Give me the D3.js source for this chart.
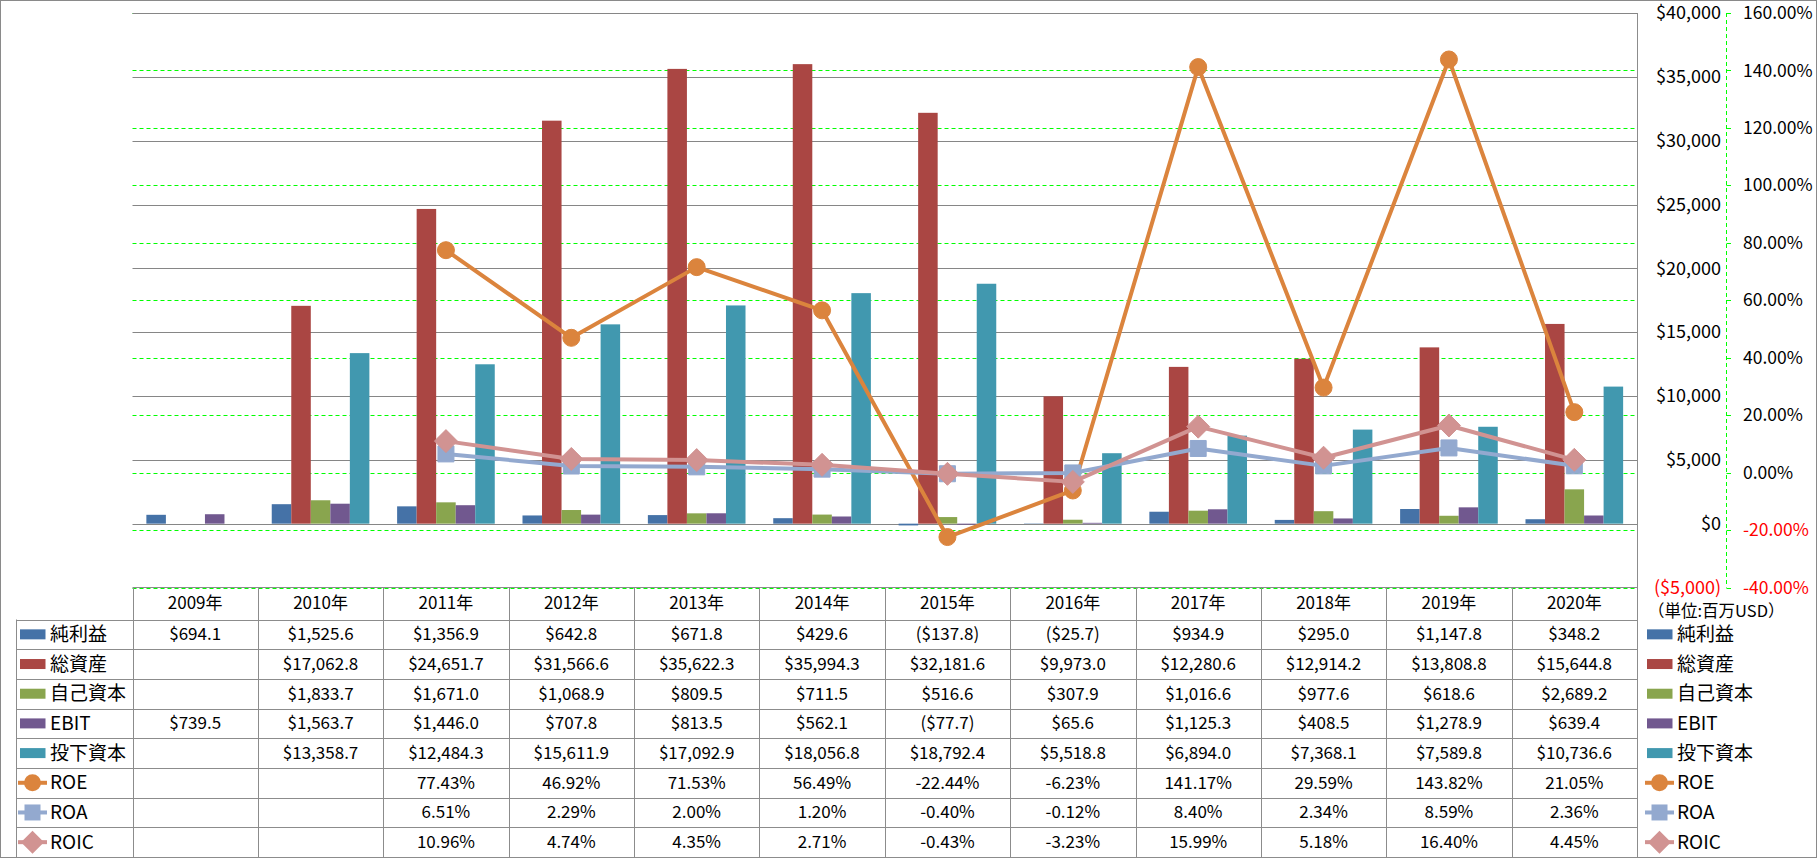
<!DOCTYPE html>
<html>
<head>
<meta charset="utf-8">
<script src="https://cdn.jsdelivr.net/npm/d3@7"></script>
<style>
  body { margin: 0; background: #fff; }
  svg { display: block; font-family: "Noto Sans CJK JP", "Noto Sans", sans-serif; }
</style>
</head>
<body>
<svg width="1817" height="858"></svg>
<script>
// data (単位: 百万USD / %)
const years = ['2009年', '2010年', '2011年', '2012年', '2013年', '2014年', '2015年', '2016年', '2017年', '2018年', '2019年', '2020年'];
const netIncome = [694.1, 1525.6, 1356.9, 642.8, 671.8, 429.6, -137.8, -25.7, 934.9, 295.0, 1147.8, 348.2];
const totalAssets = [null, 17062.8, 24651.7, 31566.6, 35622.3, 35994.3, 32181.6, 9973.0, 12280.6, 12914.2, 13808.8, 15644.8];
const equity = [null, 1833.7, 1671.0, 1068.9, 809.5, 711.5, 516.6, 307.9, 1016.6, 977.6, 618.6, 2689.2];
const ebit = [739.5, 1563.7, 1446.0, 707.8, 813.5, 562.1, -77.7, 65.6, 1125.3, 408.5, 1278.9, 639.4];
const investedCapital = [null, 13358.7, 12484.3, 15611.9, 17092.9, 18056.8, 18792.4, 5518.8, 6894.0, 7368.1, 7589.8, 10736.6];
const roe = [null, null, 77.43, 46.92, 71.53, 56.49, -22.44, -6.23, 141.17, 29.59, 143.82, 21.05];
const roa = [null, null, 6.51, 2.29, 2.00, 1.20, -0.40, -0.12, 8.40, 2.34, 8.59, 2.36];
const roic = [null, null, 10.96, 4.74, 4.35, 2.71, -0.43, -3.23, 15.99, 5.18, 16.40, 4.45];
const usdTicks = [-5000, 0, 5000, 10000, 15000, 20000, 25000, 30000, 35000, 40000];
const pctTicks = [-40, -20, 0, 20, 40, 60, 80, 100, 120, 140, 160];

const barSeries = [
  { name: '純利益', values: netIncome, color: '#4572A7' },
  { name: '総資産', values: totalAssets, color: '#AA4643' },
  { name: '自己資本', values: equity, color: '#89A54E' },
  { name: 'EBIT', values: ebit, color: '#71588F' },
  { name: '投下資本', values: investedCapital, color: '#4198AF' }
];
const lineSeries = [
  { name: 'ROE', values: roe, color: '#DB843D', marker: 'circle' },
  { name: 'ROA', values: roa, color: '#93A9CF', marker: 'square' },
  { name: 'ROIC', values: roic, color: '#D19392', marker: 'diamond' }
];

const svg = d3.select('svg');
const width = +svg.attr('width');
const height = +svg.attr('height');

const plotLeft = 132.5, plotRight = 1637, plotTop = 13, plotBottom = 587.5;

const x = d3.scaleBand().domain(years).range([plotLeft, plotRight]);
const xInner = d3.scaleBand().domain(barSeries.map(d => d.name))
  .range([0, x.bandwidth()]).paddingInner(0).paddingOuter(0.71);
const y = d3.scaleLinear().domain([-5000, 40000]).range([plotBottom, plotTop]);
const y2 = d3.scaleLinear().domain([-40, 160]).range([plotBottom, plotTop]);

const fmtNum = d3.format(',.1f');
const fmtUsd = v => v < 0 ? '($' + fmtNum(-v) + ')' : '$' + fmtNum(v);
const fmtTick = v => v < 0 ? '($' + d3.format(',')(-v) + ')' : '$' + d3.format(',')(v);
const fmtPct = v => v.toFixed(2) + '%';

// outer border
svg.append('rect')
  .attr('x', 0.5).attr('y', 0.5)
  .attr('width', width - 1).attr('height', height - 1)
  .attr('fill', 'none').attr('stroke', '#8a8a8a');

// green dashed gridlines (secondary axis)
svg.append('g').selectAll('line').data(pctTicks)
  .enter().append('line')
  .attr('x1', plotLeft).attr('x2', plotRight)
  .attr('y1', d => Math.round(y2(d)) + 0.5).attr('y2', d => Math.round(y2(d)) + 0.5)
  .attr('stroke', '#00FF00').attr('stroke-dasharray', '4,3');

// gray gridlines (primary axis)
svg.append('g').selectAll('line').data(usdTicks.filter(d => d >= 0))
  .enter().append('line')
  .attr('x1', plotLeft).attr('x2', plotRight)
  .attr('y1', d => Math.round(y(d)) + 0.5).attr('y2', d => Math.round(y(d)) + 0.5)
  .attr('stroke', '#868686');

// bars
barSeries.forEach(s => {
  svg.append('g').selectAll('rect')
    .data(years.map((yr, i) => ({ yr, v: s.values[i] })).filter(d => d.v != null))
    .enter().append('rect')
    .attr('x', d => x(d.yr) + xInner(s.name))
    .attr('width', xInner.bandwidth())
    .attr('y', d => y(Math.max(0, d.v)))
    .attr('height', d => Math.abs(y(d.v) - y(0)))
    .attr('fill', s.color);
});

// lines + markers
const markerPath = type => {
  if (type === 'circle') return d3.symbol(d3.symbolCircle, Math.PI * 8.5 * 8.5)();
  if (type === 'square') return 'M-8,-8H8V8H-8Z';
  return 'M0,-11.5L11.5,0L0,11.5L-11.5,0Z';
};
lineSeries.forEach(s => {
  const pts = years.map((yr, i) => ({ yr, v: s.values[i] })).filter(d => d.v != null);
  const line = d3.line()
    .x(d => x(d.yr) + x.bandwidth() / 2)
    .y(d => y2(d.v));
  svg.append('path')
    .attr('d', line(pts))
    .attr('fill', 'none')
    .attr('stroke', s.color)
    .attr('stroke-width', 4)
    .attr('stroke-linejoin', 'round');
  svg.append('g').selectAll('path')
    .data(pts)
    .enter().append('path')
    .attr('transform', d => `translate(${x(d.yr) + x.bandwidth() / 2},${y2(d.v)})`)
    .attr('d', markerPath(s.marker))
    .attr('fill', s.color)
    .attr('stroke', s.color)
    .attr('stroke-width', 1)
    .attr('stroke-linejoin', 'round');
});

// primary axis labels (right side)
svg.append('g').selectAll('text').data(usdTicks)
  .enter().append('text')
  .attr('x', 1721)
  .attr('y', d => y(d))
  .attr('dy', '0.35em')
  .attr('text-anchor', 'end')
  .style('font-size', '18px')
  .attr('fill', d => d < 0 ? '#FF0000' : '#000')
  .text(fmtTick);

// secondary axis line + ticks
svg.append('line')
  .attr('x1', 1726.5).attr('x2', 1726.5)
  .attr('y1', plotTop).attr('y2', plotBottom)
  .attr('stroke', '#00FF00').attr('stroke-dasharray', '4,3');
svg.append('g').selectAll('line').data(pctTicks)
  .enter().append('line')
  .attr('x1', 1726.5).attr('x2', 1731)
  .attr('y1', d => Math.round(y2(d)) + 0.5).attr('y2', d => Math.round(y2(d)) + 0.5)
  .attr('stroke', '#00FF00');
svg.append('g').selectAll('text').data(pctTicks)
  .enter().append('text')
  .attr('x', 1743)
  .attr('y', d => y2(d))
  .attr('dy', '0.35em')
  .style('font-size', '17.5px')
  .attr('fill', d => d < 0 ? '#FF0000' : '#000')
  .text(fmtPct);

svg.append('text')
  .attr('x', 1648).attr('y', 611)
  .attr('dy', '0.35em')
  .style('font-size', '16.5px')
  .text('（単位:百万USD）');

// data table
const headTop = plotBottom, headBottom = 619.5, rowH = (857 - headBottom) / 8;
const tableLeft = 16.5;
const rows = barSeries.map(s => ({ ...s, kind: 'bar', fmt: fmtUsd }))
  .concat(lineSeries.map(s => ({ ...s, kind: 'line', fmt: fmtPct })));

const grid = svg.append('g').attr('stroke', '#8c8c8c').attr('fill', 'none');
grid.append('line').attr('x1', plotLeft).attr('x2', plotRight).attr('y1', headTop).attr('y2', headTop);
d3.range(9).forEach(i => {
  const yy = Math.round(headBottom + i * rowH) + 0.5;
  grid.append('line').attr('x1', tableLeft).attr('x2', plotRight).attr('y1', yy).attr('y2', yy);
});
grid.append('line').attr('x1', tableLeft).attr('x2', tableLeft).attr('y1', headBottom).attr('y2', 857);
years.forEach(yr => {
  const xx = Math.round(x(yr)) + 0.5;
  grid.append('line').attr('x1', xx).attr('x2', xx).attr('y1', headTop).attr('y2', 857);
});
grid.append('line').attr('x1', plotRight + 0.5).attr('x2', plotRight + 0.5).attr('y1', plotTop).attr('y2', 857);

// header years
svg.append('g').selectAll('text').data(years)
  .enter().append('text')
  .attr('x', d => x(d) + x.bandwidth() / 2)
  .attr('y', (headTop + headBottom) / 2)
  .attr('dy', '0.35em')
  .attr('text-anchor', 'middle')
  .style('font-size', '17px')
  .text(d => d);

const drawKey = (g, r, kx) => {
  if (r.kind === 'bar') {
    g.append('rect').attr('x', kx).attr('y', -5).attr('width', 25.5).attr('height', 10).attr('fill', r.color);
  } else {
    g.append('line').attr('x1', kx - 2).attr('x2', kx + 27).attr('y1', 0).attr('y2', 0)
      .attr('stroke', r.color).attr('stroke-width', 4);
    g.append('path').attr('transform', `translate(${kx + 12.5},0)`)
      .attr('d', markerPath(r.marker)).attr('fill', r.color);
  }
};

rows.forEach((r, ri) => {
  const cy = headBottom + (ri + 0.5) * rowH;
  const left = svg.append('g').attr('transform', `translate(0,${cy})`);
  drawKey(left, r, 20);
  left.append('text').attr('x', 50).attr('dy', '0.35em').style('font-size', '19px').text(r.name);

  const right = svg.append('g').attr('transform', `translate(0,${cy})`);
  drawKey(right, r, 1647);
  right.append('text').attr('x', 1677).attr('dy', '0.35em').style('font-size', '19px').text(r.name);

  svg.append('g').selectAll('text')
    .data(years.map((yr, i) => ({ yr, v: r.values[i] })).filter(d => d.v != null))
    .enter().append('text')
    .attr('x', d => x(d.yr) + x.bandwidth() / 2)
    .attr('y', cy)
    .attr('dy', '0.35em')
    .attr('text-anchor', 'middle')
    .style('font-size', '17px')
    .text(d => r.fmt(d.v));
});
</script>
</body>
</html>
